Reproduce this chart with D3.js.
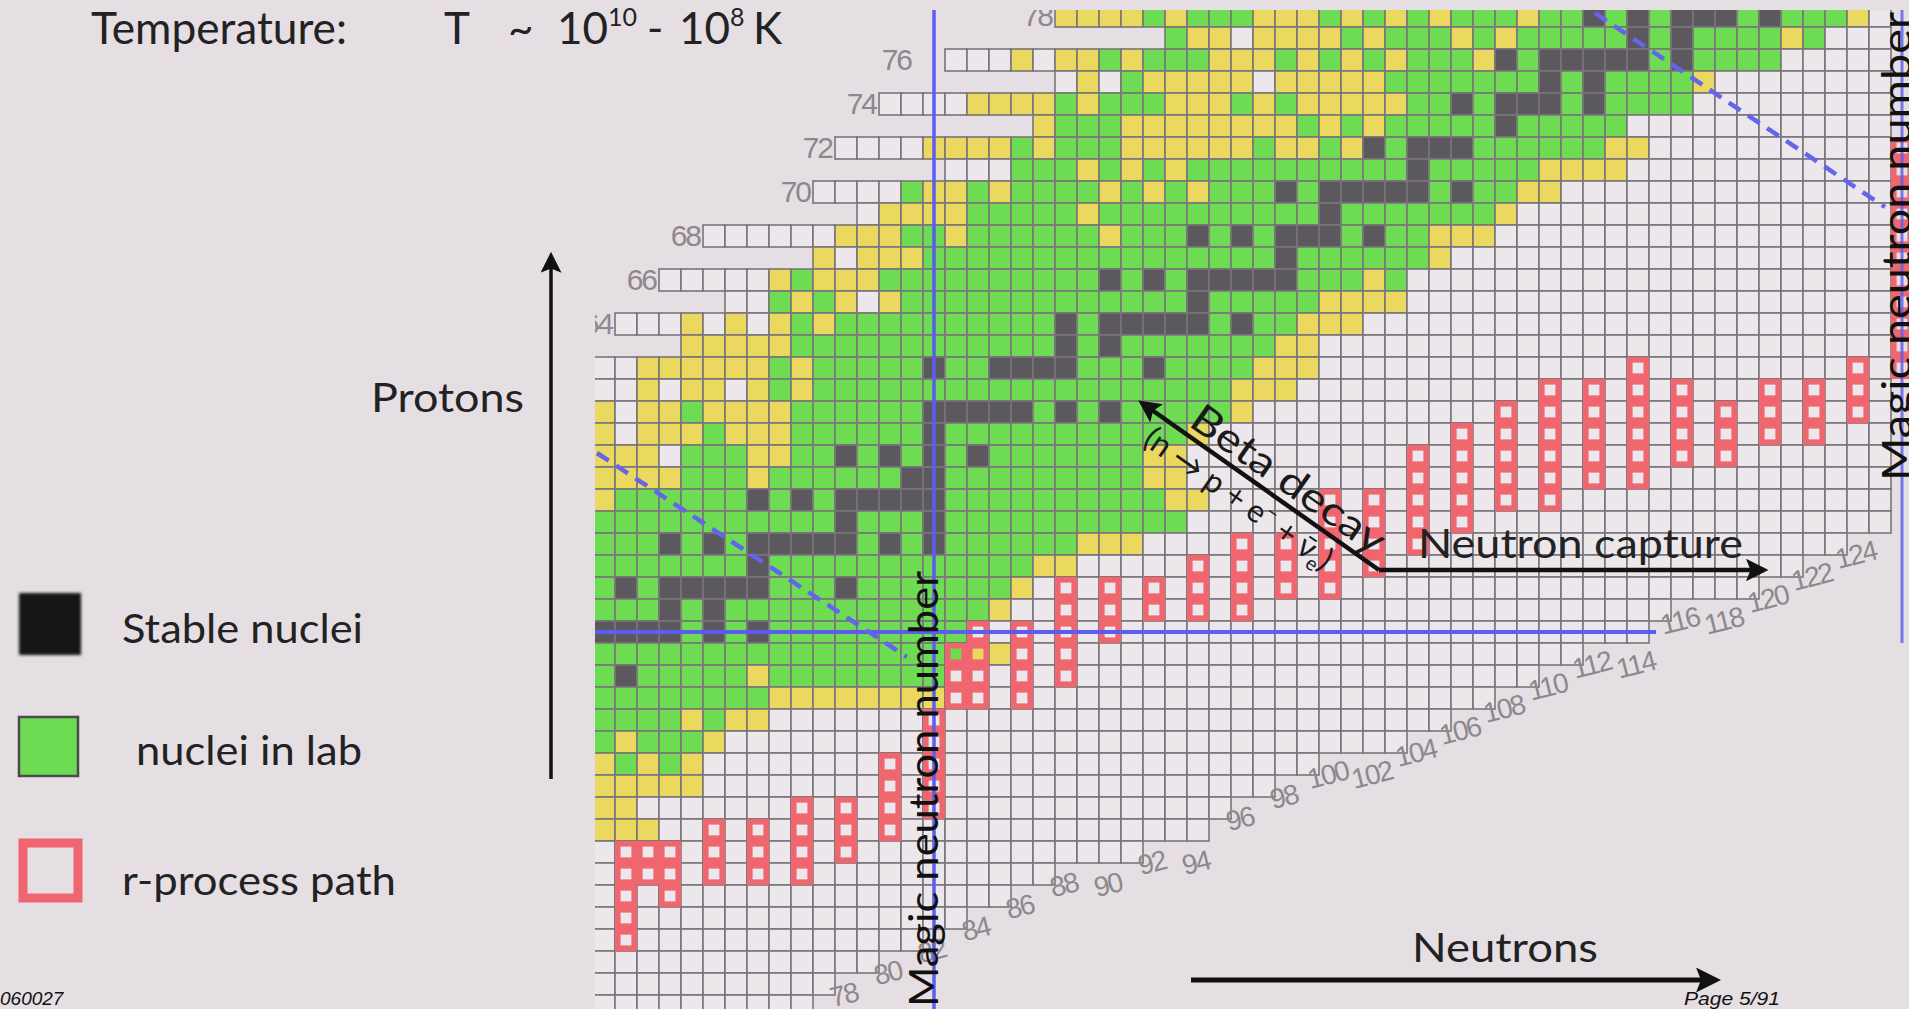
<!DOCTYPE html>
<html>
<head>
<meta charset="utf-8">
<script src="https://cdn.jsdelivr.net/npm/d3@7"></script>
<style>
  html, body { margin: 0; padding: 0; background: #e5dee3; overflow: hidden; }
  svg { display: block; }
</style>
</head>
<body>
<svg id="chart" width="1909" height="1009"></svg>
<script>
// ---- chart of nuclides: one string per proton row, one character per neutron column ----
// codes: w = unmeasured nucleus, y = yellow, g = nuclei in lab, s = stable nuclei, . = no cell
const rowZ = [78,77,76,75,74,73,72,71,70,69,68,67,66,65,64,63,62,61,60,59,58,57,56,55,54,53,52,51,50,49,48,47,46,45,44,43,42,41,40,39,38,37,36,35,34,33];
const rowFirstN = [88,93,83,88,80,87,78,83,77,79,72,77,70,73,68,71,67,67,67,67,67,67,67,67,67,67,67,67,67,67,67,67,67,67,67,67,67,67,67,67,67,67,67,67,67,67];
const rowCells = [
  "yyyygygggyyygygygyggg" + "yggsgsgsssgsgggyw",
  "gyywyyyygygggygy" + "gggggsgsggggygwww",
  "wwwyw" + "yygygggyyygygygygggys" + "gsssssgsggggwwwww",
  "wywgyyyyywyyyyygggggg" + "gsgsggggywwwwwwww",
  "wwwwyyyy" + "gygggyyygygyyyyyggsgs" + "ssgsggggwwwwwwwww",
  "y" + "gggyyyyyyyygygygggggs" + "gggggwwwwwwwwwwww",
  "wwwwyyyygy" + "gggyyyyyygyygysgsssgg" + "ggggyywwwwwwwwwww",
  "wwwgg" + "gygygyggggggggggsgggg" + "gyyyywwwwwwwwwwww",
  "wwwwgyygygg" + "ggygygygggsgsssssgsgg" + "yywwwwwwwwwwwwwww",
  "wyyyygggg" + "gyggggggggggsgggggggy",
  "wwwwwwyyyggygggg" + "ggygggsgsgsssgsggyyyw",
  "ywyyygggggg" + "ggggggggggsggggggywww",
  "wwwwwygyyygggggggg" + "ggsgsgsssssgggyg",
  "wwgygywyggggggg" + "ggggggsgggggyyyy",
  "wwwywywygygggggggggg" + "sgsssssgsggyyy",
  "yyyyygggggggggggg" + "sgsgggggggyy",
  "wwyyyyyygygggggsggsss" + "sgggsggggyyy",
  "wwywyywygyggggggggggg" + "ggggggggyyy",
  "ywyygyyyyggggggsssssg" + "sgsgggggy",
  "ywyyygyyyggggggsggggg" + "ggggggy",
  "yyywgggyyggsgsgsgsggg" + "ggggyy",
  "yyyygggyggggggssggggg" + "ggggyy",
  "yggggggsgsgsssssggggg" + "gggggyy",
  "gggggggggggsgggsggggg" + "gggggg",
  "gggsgsgsssssgsgsggggg" + "gyyy",
  "gggggggsggggggggggggy" + "y",
  "gsgsssssgggsgggggggyw",
  "gggsgsggggggggggggyww",
  "ssssgsgsgggggggggwwww",
  "gggggggggggggggggyyww",
  "gsgggggyggggggggwwwww",
  "ggggggggyyyyyyyy",
  "ggggygyy",
  "gygggy",
  "ygygy",
  "yyyyy",
  "yy",
  "yyy",
  "", "", "", "", "", "", "", ""
];

// lowest proton row present in each neutron column (the lower staircase edge)
const columnN      = [67,68,69,70,71,72,73,74,75,76,77,78,79,80,81,82,83,84,85,86,87,88,89,90,91,92,93,94,95,96,97,98,99,100,101,102,103,104,105,106,107,108,109,110,111,112,113,114,115,116,117,118,119,120,121,122,123,124,125];
const columnFloorZ = [33,33,33,33,33,33,33,33,33,33,34,35,35,36,36,37,37,38,38,39,39,40,40,40,40,41,41,41,42,43,43,44,44,45,45,45,45,46,46,47,47,48,48,49,49,50,50,50,51,52,52,52,52,53,53,54,54,55,55];

// r-process path: neutron column with its lowest and highest proton row
const rProcessN     = [68,69,70,72,74,76,78,80,82,83,84,86,88,90,92,94,96,98,100,102,104,106,108,110,112,114,116,118,120,122,124,126];
const rProcessZLow  = [36,39,38,39,39,39,40,41,42,47,47,47,48,50,51,51,51,52,52,53,54,55,56,56,57,57,58,58,59,59,60,62];
const rProcessZHigh = [40,40,40,41,41,42,42,44,46,49,50,50,52,52,52,53,54,54,56,56,58,59,60,61,61,62,61,60,61,61,62,72];

// axis tick labels
const protonTickZ  = [78,76,74,72,70,68,66,64];
const neutronTickN = [78,80,82,84,86,88,90,92,94,96,98,100,102,104,106,108,110,112,114,116,118,120,122,124];

// ---- scales ----
const CELL = 22;
const x = d3.scaleLinear().domain([82, 126]).range([934, 1902]);
const y = d3.scaleLinear().domain([50, 78]).range([632, 16]);
const kindColor = { w: "#ece7eb", y: "#ebd85f", g: "#6edc52", s: "#5b585e" };

const svg = d3.select("#chart");
const defs = svg.append("defs");
defs.append("clipPath").attr("id", "chartClip")
  .append("rect").attr("x", 595).attr("y", 10).attr("width", 1314).attr("height", 999);
const marker = (id, size) => defs.append("marker").attr("id", id)
  .attr("viewBox", "0 0 10 10").attr("refX", 8).attr("refY", 5)
  .attr("markerWidth", size).attr("markerHeight", size).attr("orient", "auto")
  .append("path").attr("d", "M0,0 L10,5 L0,10 L2,5 Z").attr("fill", "#111");
marker("head", 5);
marker("headSmall", 6);
defs.append("filter").attr("id", "soft").append("feGaussianBlur").attr("stdDeviation", 1.6);

svg.append("rect").attr("width", 1909).attr("height", 1009).attr("fill", "#e5dee3");

// ---- cells ----
const floorOf = new Map(columnN.map((n, i) => [n, columnFloorZ[i]]));
function rowEnd(z) {
  let end = columnN[0];
  columnN.forEach(n => { if (floorOf.get(n) <= z) end = n; });
  return end;
}
const cells = [];
rowZ.forEach((z, i) => {
  const code = rowCells[i];
  for (let n = rowFirstN[i]; n <= rowEnd(z); n++) {
    const k = code[n - rowFirstN[i]] || "w";
    if (k !== ".") cells.push({ n, z, k });
  }
});

const chart = svg.append("g").attr("clip-path", "url(#chartClip)");
chart.append("g").selectAll("rect").data(cells).join("rect")
  .attr("x", d => x(d.n) - CELL / 2).attr("y", d => y(d.z) - CELL / 2)
  .attr("width", CELL).attr("height", CELL)
  .attr("fill", d => kindColor[d.k])
  .attr("stroke", "#7a757b").attr("stroke-width", 1.6);

// r-process path
const rCells = [];
rProcessN.forEach((n, i) => {
  for (let z = rProcessZLow[i]; z <= rProcessZHigh[i]; z++) rCells.push({ n, z });
});
chart.append("g").selectAll("rect").data(rCells).join("rect")
  .attr("x", d => x(d.n) - 8.2).attr("y", d => y(d.z) - 8.2)
  .attr("width", 16.4).attr("height", 16.4)
  .attr("fill", "none").attr("stroke", "#f0666f").attr("stroke-width", 5.6);

// proton-number labels at the left end of even rows; a row starting right
// beside the magic line gets its label on the far side of the line
const firstOf = new Map(rowZ.map((z, i) => [z, rowFirstN[i]]));
function protonLabelX(z) {
  const left = x(firstOf.get(z)) - CELL / 2;
  return (left > x(82) && left - x(82) < 30) ? x(82) - 23 : left - 3;
}
chart.append("g").selectAll("text").data(protonTickZ).join("text")
  .attr("x", protonLabelX)
  .attr("y", z => y(z) + 10)
  .attr("text-anchor", "end").attr("fill", "#8d888d")
  .attr("font-family", "Liberation Sans, Arial, sans-serif").attr("font-size", 30)
  .attr("letter-spacing", -2)
  .text(z => z);

// neutron-number labels under the lower staircase edge
chart.append("g").selectAll("text").data(neutronTickN).join("text")
  .attr("transform", n => `translate(${x(n)},${y(floorOf.get(n)) + CELL / 2 + 31}) rotate(-14)`)
  .attr("text-anchor", "middle").attr("fill", "#8d888d")
  .attr("font-family", "Liberation Sans, Arial, sans-serif").attr("font-size", 28)
  .attr("letter-spacing", -2)
  .text(n => n);

// magic numbers and lines of constant mass
const blue = "#5c5cf0";
chart.append("line").attr("x1", x(82)).attr("x2", x(82)).attr("y1", 10).attr("y2", 1009)
  .attr("stroke", blue).attr("stroke-width", 3.5);
chart.append("line").attr("x1", 595).attr("x2", 1656).attr("y1", y(50)).attr("y2", y(50))
  .attr("stroke", blue).attr("stroke-width", 4);
chart.append("line").attr("x1", x(126)).attr("x2", x(126)).attr("y1", 0).attr("y2", 643)
  .attr("stroke", blue).attr("stroke-width", 3).attr("opacity", 0.8);
[[597, 453, 907, 657], [1595, 13, 1885, 207]].forEach(([x1, y1, x2, y2]) => {
  chart.append("line").attr("x1", x1).attr("y1", y1).attr("x2", x2).attr("y2", y2)
    .attr("stroke", "#6464ee").attr("stroke-width", 4.5).attr("stroke-dasharray", "14 9");
});

// ---- annotations ----
const font = "Lato, 'Open Sans', sans-serif";
function label(txt, px, py, size, len) {
  const t = svg.append("text").attr("x", px).attr("y", py).attr("font-family", font)
    .attr("font-size", size).attr("fill", "#222").text(txt);
  if (len) t.attr("textLength", len).attr("lengthAdjust", "spacingAndGlyphs");
  return t;
}

// magic neutron number captions
svg.append("text").attr("transform", "translate(938,1007) rotate(-90)")
  .attr("font-family", font).attr("font-size", 41).attr("fill", "#111")
  .attr("textLength", 436).attr("lengthAdjust", "spacingAndGlyphs")
  .text("Magic neutron number");
svg.append("text").attr("transform", "translate(1911,481) rotate(-90)")
  .attr("font-family", font).attr("font-size", 40).attr("fill", "#111")
  .attr("textLength", 469).attr("lengthAdjust", "spacingAndGlyphs")
  .text("Magic neutron number");

// temperature line: T ~ 10^10 - 10^8 K
const temp = svg.append("text").attr("x", 444).attr("y", 44)
  .attr("font-family", font).attr("font-size", 44).attr("fill", "#222");
temp.append("tspan").text("T");
temp.append("tspan").attr("x", 508).text("~");
temp.append("tspan").attr("x", 557).text("10");
temp.append("tspan").attr("dy", -18).attr("font-size", 25).text("10");
temp.append("tspan").attr("x", 647).attr("dy", 18).text("-");
temp.append("tspan").attr("x", 679).text("10");
temp.append("tspan").attr("dy", -18).attr("font-size", 25).text("8");
temp.append("tspan").attr("x", 753).attr("dy", 18).text("K");
label("Temperature:", 91, 44, 44, 256);

// proton axis
label("Protons", 371, 412, 40, 153);
svg.append("line").attr("x1", 551).attr("y1", 779).attr("x2", 551).attr("y2", 256)
  .attr("stroke", "#111").attr("stroke-width", 3.5).attr("marker-end", "url(#headSmall)");

// neutron axis
label("Neutrons", 1412, 962, 40, 186);
svg.append("line").attr("x1", 1191).attr("y1", 980).attr("x2", 1716).attr("y2", 980)
  .attr("stroke", "#111").attr("stroke-width", 5).attr("marker-end", "url(#head)");

// neutron capture and beta decay
svg.append("line").attr("x1", 1379).attr("y1", 570).attr("x2", 1764).attr("y2", 570)
  .attr("stroke", "#111").attr("stroke-width", 4.5).attr("marker-end", "url(#head)");
label("Neutron capture", 1418, 558, 40, 325);
svg.append("line").attr("x1", 1379).attr("y1", 570).attr("x2", 1142).attr("y2", 403)
  .attr("stroke", "#111").attr("stroke-width", 4.5).attr("marker-end", "url(#head)");
svg.append("text").attr("transform", "translate(1276,497) rotate(35.1)")
  .attr("y", -8).attr("text-anchor", "middle")
  .attr("font-family", font).attr("font-size", 40).attr("fill", "#1a1a1a")
  .attr("textLength", 228).attr("lengthAdjust", "spacingAndGlyphs")
  .text("Beta decay");
const reaction = svg.append("text").attr("transform", "translate(1253,478) rotate(35.1)")
  .attr("y", 36).attr("text-anchor", "middle")
  .attr("font-family", font).attr("font-size", 32).attr("fill", "#1a1a1a")
  .attr("textLength", 222).attr("lengthAdjust", "spacingAndGlyphs");
reaction.append("tspan").text("(n \u2192 p + e");
reaction.append("tspan").attr("dy", -12).attr("font-size", 20).text("\u2212");
reaction.append("tspan").attr("dy", 12).text(" + \u03bd\u0304");
reaction.append("tspan").attr("dy", 7).attr("font-size", 20).text("e");
reaction.append("tspan").attr("dy", -7).text(")");

// legend
svg.append("rect").attr("x", 19).attr("y", 593).attr("width", 62).attr("height", 62)
  .attr("fill", "#141414").attr("filter", "url(#soft)");
label("Stable nuclei", 122, 643, 40, 241);
svg.append("rect").attr("x", 19).attr("y", 717).attr("width", 59).attr("height", 59)
  .attr("fill", "#6edc52").attr("stroke", "#4b4b4b").attr("stroke-width", 2.5);
label("nuclei in lab", 136, 765, 40, 226);
svg.append("rect").attr("x", 23).attr("y", 843).attr("width", 55).attr("height", 55)
  .attr("fill", "none").attr("stroke", "#f0656f").attr("stroke-width", 9);
label("r-process path", 122, 895, 40, 274);

// footer
svg.append("text").attr("x", 0).attr("y", 1005).attr("font-family", "Liberation Sans, Arial, sans-serif")
  .attr("font-size", 19).attr("font-style", "italic").attr("fill", "#111").text("060027");
svg.append("text").attr("x", 1684).attr("y", 1005).attr("font-family", "Liberation Sans, Arial, sans-serif")
  .attr("font-size", 19).attr("font-style", "italic").attr("fill", "#111")
  .attr("textLength", 96).attr("lengthAdjust", "spacingAndGlyphs").text("Page 5/91");
</script>
</body>
</html>
